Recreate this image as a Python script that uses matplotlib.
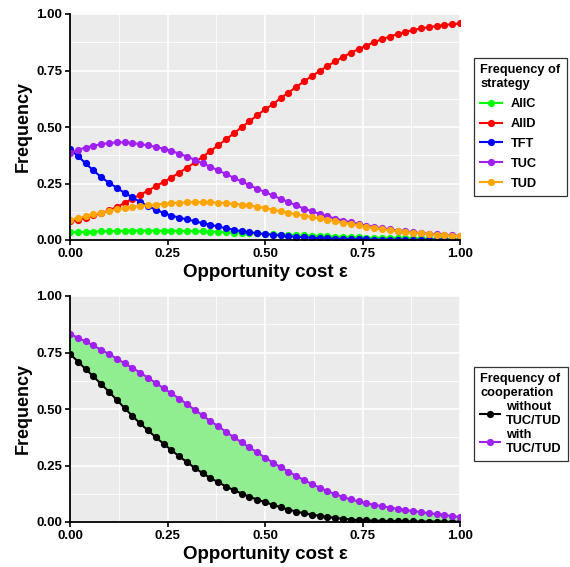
import numpy as np
import matplotlib
matplotlib.use("Agg")
import matplotlib.pyplot as plt
from matplotlib.ticker import MultipleLocator

plt.rcParams['font.family'] = ['Liberation Sans', 'DejaVu Sans']

# coste de oportunidad (eje x)
eps = [0.00, 0.02, 0.04, 0.06, 0.08, 0.10, 0.12, 0.14, 0.16, 0.18,
       0.20, 0.22, 0.24, 0.26, 0.28, 0.30, 0.32, 0.34, 0.36, 0.38,
       0.40, 0.42, 0.44, 0.46, 0.48, 0.50, 0.52, 0.54, 0.56, 0.58,
       0.60, 0.62, 0.64, 0.66, 0.68, 0.70, 0.72, 0.74, 0.76, 0.78,
       0.80, 0.82, 0.84, 0.86, 0.88, 0.90, 0.92, 0.94, 0.96, 0.98, 1.00]

allc = [0.034, 0.035, 0.036, 0.037, 0.038, 0.039, 0.040, 0.040, 0.041, 0.041,
        0.041, 0.041, 0.041, 0.041, 0.040, 0.040, 0.039, 0.038, 0.037, 0.036,
        0.035, 0.033, 0.032, 0.030, 0.029, 0.027, 0.026, 0.024, 0.023, 0.021,
        0.020, 0.019, 0.018, 0.016, 0.015, 0.014, 0.013, 0.012, 0.011, 0.010,
        0.010, 0.009, 0.008, 0.008, 0.007, 0.007, 0.006, 0.006, 0.005, 0.005, 0.005]

alld = [0.082, 0.089, 0.098, 0.109, 0.119, 0.131, 0.146, 0.164, 0.183, 0.201,
        0.218, 0.238, 0.257, 0.276, 0.298, 0.320, 0.343, 0.368, 0.393, 0.419,
        0.445, 0.472, 0.499, 0.525, 0.552, 0.578, 0.600, 0.628, 0.652, 0.677,
        0.702, 0.725, 0.747, 0.770, 0.790, 0.810, 0.828, 0.845, 0.860, 0.875,
        0.889, 0.900, 0.911, 0.921, 0.929, 0.936, 0.942, 0.947, 0.951, 0.955, 0.958]

tft = [0.402, 0.372, 0.339, 0.308, 0.278, 0.253, 0.231, 0.208, 0.189, 0.168,
       0.150, 0.134, 0.120, 0.108, 0.099, 0.091, 0.083, 0.074, 0.067, 0.060,
       0.052, 0.045, 0.039, 0.034, 0.030, 0.026, 0.023, 0.020, 0.017, 0.014,
       0.012, 0.010, 0.008, 0.007, 0.006, 0.005, 0.004, 0.003, 0.003, 0.002,
       0.002, 0.002, 0.001, 0.001, 0.001, 0.001, 0.001, 0.001, 0.001, 0.001, 0.001]

tuc = [0.384, 0.399, 0.409, 0.417, 0.424, 0.429, 0.432, 0.432, 0.429, 0.424,
       0.419, 0.412, 0.404, 0.394, 0.382, 0.369, 0.355, 0.339, 0.324, 0.308,
       0.292, 0.275, 0.259, 0.243, 0.227, 0.212, 0.197, 0.182, 0.168, 0.153,
       0.139, 0.127, 0.116, 0.105, 0.095, 0.086, 0.078, 0.071, 0.064, 0.058,
       0.052, 0.047, 0.042, 0.038, 0.034, 0.030, 0.027, 0.025, 0.022, 0.020, 0.018]

tud = [0.089, 0.097, 0.104, 0.113, 0.121, 0.129, 0.136, 0.141, 0.146, 0.150,
       0.154, 0.157, 0.160, 0.163, 0.165, 0.166, 0.167, 0.167, 0.167, 0.165,
       0.163, 0.160, 0.157, 0.153, 0.148, 0.142, 0.134, 0.127, 0.120, 0.114,
       0.108, 0.102, 0.096, 0.089, 0.083, 0.077, 0.071, 0.065, 0.059, 0.053,
       0.048, 0.043, 0.039, 0.035, 0.032, 0.029, 0.026, 0.023, 0.021, 0.019, 0.017]

# frecuencia de cooperacion
coop_sin = [0.744, 0.710, 0.677, 0.644, 0.610, 0.576, 0.540, 0.504, 0.469, 0.436,
            0.405, 0.375, 0.346, 0.318, 0.290, 0.265, 0.239, 0.216, 0.194, 0.176,
            0.157, 0.141, 0.126, 0.112, 0.099, 0.088, 0.076, 0.065, 0.055, 0.046,
            0.039, 0.033, 0.027, 0.022, 0.018, 0.014, 0.011, 0.008, 0.007, 0.006,
            0.005, 0.004, 0.004, 0.003, 0.003, 0.002, 0.002, 0.002, 0.001, 0.001, 0.001]

coop_con = [0.833, 0.815, 0.799, 0.781, 0.762, 0.743, 0.723, 0.702, 0.682, 0.661,
            0.638, 0.615, 0.592, 0.569, 0.546, 0.521, 0.496, 0.472, 0.446, 0.424,
            0.399, 0.375, 0.353, 0.330, 0.308, 0.285, 0.263, 0.243, 0.223, 0.204,
            0.186, 0.168, 0.152, 0.137, 0.123, 0.111, 0.100, 0.091, 0.083, 0.076,
            0.070, 0.064, 0.058, 0.053, 0.048, 0.044, 0.039, 0.035, 0.031, 0.026, 0.022]

estrategias = ["AllC", "AllD", "TFT", "TUC", "TUD"]
colores = ["#00FF00", "#FF0000", "#0000FF", "#A020F0", "#FFA500"]


def estilo_gg(ax):
    ax.set_facecolor("#EBEBEB")
    ax.set_xlim(0, 1)
    ax.set_ylim(0, 1)
    ax.xaxis.set_major_locator(MultipleLocator(0.25))
    ax.yaxis.set_major_locator(MultipleLocator(0.25))
    ax.xaxis.set_minor_locator(MultipleLocator(0.125))
    ax.yaxis.set_minor_locator(MultipleLocator(0.125))
    ax.grid(True, which="major", color="white", linewidth=1.1)
    ax.grid(True, which="minor", color="white", linewidth=0.55)
    ax.set_axisbelow(True)
    for s in ["top", "right"]:
        ax.spines[s].set_visible(False)
    for s in ["left", "bottom"]:
        ax.spines[s].set_linewidth(1.3)
        ax.spines[s].set_color("black")
    ax.tick_params(which="major", length=3.5, width=1.2, colors="black",
                   labelsize=9.5, pad=2)
    ax.tick_params(which="minor", length=0)
    ax.xaxis.set_major_formatter(lambda v, p: f"{v:.2f}")
    ax.yaxis.set_major_formatter(lambda v, p: f"{v:.2f}")
    for lab in ax.get_xticklabels() + ax.get_yticklabels():
        lab.set_fontweight("bold")
    ax.set_xlabel("Opportunity cost ε", fontsize=13.5, fontweight="bold", labelpad=3)
    ax.set_ylabel("Frequency", fontsize=13, fontweight="bold", labelpad=3)


fig = plt.figure(figsize=(5.7, 5.67), dpi=100)
ax1 = fig.add_axes([70 / 570, 1 - 240 / 567, 390 / 570, 226 / 567])
ax2 = fig.add_axes([70 / 570, 1 - 522 / 567, 390 / 570, 226 / 567])

series = [allc, alld, tft, tuc, tud]
for nombre, datos, color in zip(estrategias, series, colores):
    ax1.plot(eps, datos, color=color, linewidth=1.5, marker="o", markersize=5.2,
             markeredgewidth=0, label=nombre)

ax2.fill_between(eps, coop_sin, coop_con, color="#90EE90", linewidth=0)
ax2.plot(eps, coop_sin, color="black", linewidth=1.5, marker="o", markersize=5.2,
         markeredgewidth=0, label="without\nTUC/TUD")
ax2.plot(eps, coop_con, color="#A020F0", linewidth=1.5, marker="o", markersize=5.2,
         markeredgewidth=0, label="with\nTUC/TUD")

estilo_gg(ax1)
estilo_gg(ax2)

leyendas = [(ax1, "Frequency of\nstrategy", 58, 0.62, 1.7, 0.7),
            (ax2, "Frequency of\ncooperation", 367, 0.15, 1.5, 0.5)]
for ax, titulo, y0, espacio, largo, sep in leyendas:
    h, l = ax.get_legend_handles_labels()
    leg = fig.legend(h, l, title=titulo, loc="upper left",
                     bbox_to_anchor=(474 / 570, 1 - y0 / 567),
                     frameon=True, fancybox=False, edgecolor="black",
                     prop={"weight": "bold", "size": 9.2},
                     title_fontproperties={"weight": "bold", "size": 9.2},
                     handlelength=largo, handletextpad=sep, labelspacing=espacio,
                     borderpad=0.5, borderaxespad=0)
    leg._legend_box.align = "left"
    leg.get_frame().set_linewidth(0.9)

fig.savefig("out.png", dpi=100)
